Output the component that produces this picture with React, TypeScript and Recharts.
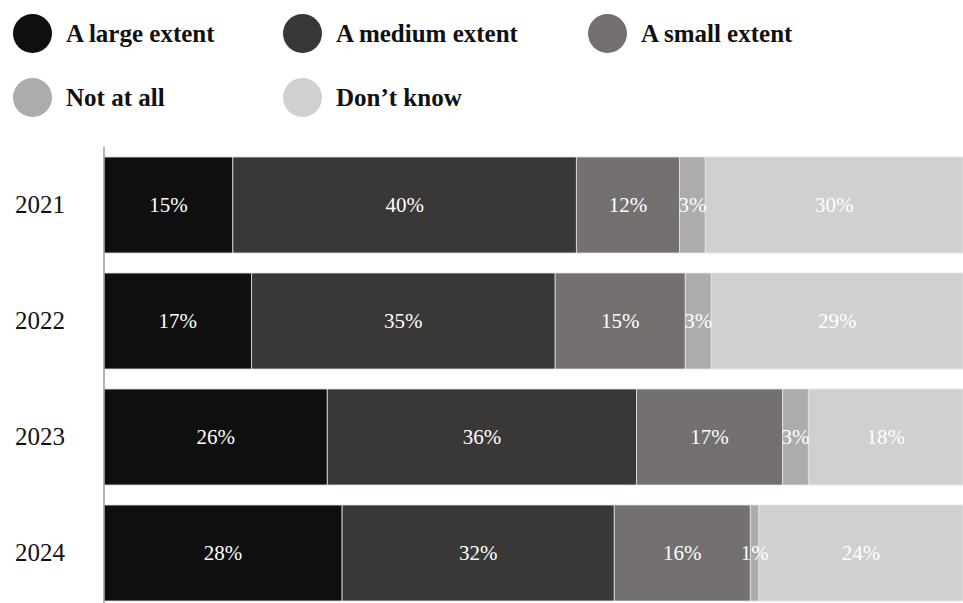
import React from 'react';
import { BarChart, Bar, XAxis, YAxis, LabelList } from 'recharts';

const years = ['2021', '2022', '2023', '2024'];
const largeExtent = [15, 17, 26, 28];
const mediumExtent = [40, 35, 36, 32];
const smallExtent = [12, 15, 17, 16];
const notAtAll = [3, 3, 3, 1];
const dontKnow = [30, 29, 18, 24];

const seriesDefs = [
  { key: 'large', label: 'A large extent', color: '#0f0f0f', values: largeExtent },
  { key: 'medium', label: 'A medium extent', color: '#3a3836', values: mediumExtent },
  { key: 'small', label: 'A small extent', color: '#73706f', values: smallExtent },
  { key: 'none', label: 'Not at all', color: '#aeabab', values: notAtAll },
  { key: 'dk', label: 'Don\u2019t know', color: '#d1cfd0', values: dontKnow },
];

const data = years.map((year, i) => {
  const row: Record<string, string | number> = { year };
  seriesDefs.forEach((s) => {
    row[s.key] = s.values[i];
  });
  return row;
});

const font = '"Liberation Serif", "Times New Roman", serif';

const legendPos = [
  { left: 13, top: 14 },
  { left: 283, top: 14 },
  { left: 588, top: 14 },
  { left: 13, top: 78 },
  { left: 283, top: 78 },
];

const YearTick = (props: any) => {
  const { y, payload } = props;
  return (
    <text x={40} y={y} dy={8} textAnchor="middle" fontSize={25} fill="#111" fontFamily={font}>
      {payload.value}
    </text>
  );
};

const App: React.FC = () => {
  return (
    <div style={{ position: 'absolute', left: 0, top: 0, width: 963, height: 603, overflow: 'hidden', background: '#fff', fontFamily: font }}>
      {seriesDefs.map((s, i) => (
        <div
          key={s.key}
          style={{ position: 'absolute', left: legendPos[i].left, top: legendPos[i].top, display: 'flex', alignItems: 'center', whiteSpace: 'nowrap' }}
        >
          <span style={{ display: 'inline-block', width: 39, height: 39, borderRadius: '50%', background: s.color }} />
          <span style={{ marginLeft: 14, fontSize: 25, fontWeight: 'bold', color: '#111' }}>{s.label}</span>
        </div>
      ))}
      <div style={{ position: 'absolute', left: 0, top: 0 }}>
        <BarChart
          width={963}
          height={620}
          data={data}
          layout="vertical"
          stackOffset="expand"
          margin={{ top: 147, right: 0, bottom: 9, left: 0 }}
        >
          <XAxis type="number" hide domain={[0, 1]} />
          <YAxis
            type="category"
            dataKey="year"
            width={104}
            tick={<YearTick />}
            tickLine={false}
            axisLine={{ stroke: '#999', strokeWidth: 1.5 }}
          />
          {seriesDefs.map((s) => (
            <Bar
              key={s.key}
              dataKey={s.key}
              stackId="a"
              fill={s.color}
              stroke="#e4e3e3"
              strokeWidth={0.8}
              barSize={96}
              isAnimationActive={false}
            >
              <LabelList
                dataKey={s.key}
                position="center"
                formatter={(v: any) => `${v}%`}
                fill="#fff"
                fontSize={21}
                fontFamily={font}
              />
            </Bar>
          ))}
        </BarChart>
      </div>
    </div>
  );
};

export default App;
